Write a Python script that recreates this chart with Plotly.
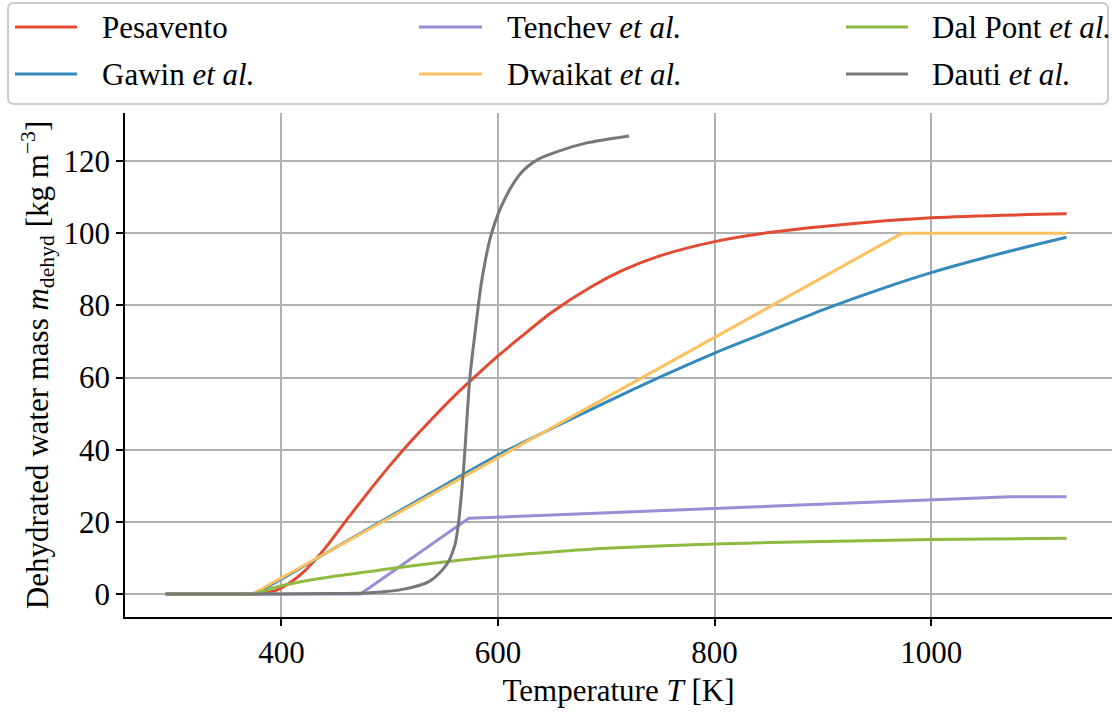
import plotly.graph_objects as go

# ---------------- data ----------------
pes_T = [293, 365, 373, 390, 400, 420, 440, 460, 480, 500, 520, 540, 560, 580, 600, 620, 650, 685, 715, 750, 800, 850, 900, 1000, 1125]
pes_m = [0, 0, 0, 0.6, 1.7, 6.0, 12.6, 20.5, 28.2, 35.6, 42.5, 48.9, 55.0, 60.6, 66.0, 71.0, 78.2, 85.0, 89.7, 93.8, 97.7, 100.2, 101.9, 104.3, 105.4]

gaw_T = [293, 365, 373, 400, 450, 500, 550, 600, 650, 700, 750, 800, 850, 900, 950, 1000, 1050, 1100, 1125]
gaw_m = [0, 0, 0, 4.2, 12.9, 21.5, 30.1, 38.5, 46.0, 53.2, 60.2, 66.8, 72.8, 78.8, 84.2, 89.1, 93.3, 97.1, 98.9]

ten_T = [293, 473, 573, 1073, 1125]
ten_m = [0, 0, 21, 27, 27]

dwa_T = [293, 373, 973, 1125]
dwa_m = [0, 0, 100, 100]

dal_T = [293, 365, 373, 400, 450, 500, 550, 600, 650, 700, 800, 900, 1000, 1125]
dal_m = [0, 0, 0, 2.3, 5.0, 7.0, 8.9, 10.5, 11.7, 12.7, 13.9, 14.6, 15.1, 15.5]

dau_T = [293, 400, 450, 482, 512, 537, 552.6, 560.3, 563.3, 568, 574, 579, 585, 594, 607, 622, 637, 656, 681, 721]
dau_m = [0, 0.05, 0.15, 0.36, 1.3, 3.6, 8.2, 13.8, 19.3, 34, 60, 73, 87, 100, 110, 117, 120.5, 122.8, 125, 127]

x_ticks = [400, 600, 800, 1000]
y_ticks = [0, 20, 40, 60, 80, 100, 120]

labels = ["Pesavento", "Gawin <i>et al.</i>", "Tenchev <i>et al.</i>",
          "Dwaikat <i>et al.</i>", "Dal Pont <i>et al.</i>", "Dauti <i>et al.</i>"]
colors = ["#E24A33", "#348ABD", "#988ED5", "#FBC15E", "#8EBA42", "#777777"]

FONT = "Liberation Serif"
FS = 31

series = [
    (pes_T, pes_m, "spline"),
    (gaw_T, gaw_m, "spline"),
    (ten_T, ten_m, "linear"),
    (dwa_T, dwa_m, "linear"),
    (dal_T, dal_m, "spline"),
    (dau_T, dau_m, "spline"),
]

fig = go.Figure()
for (T, m, shape), lab, col in zip(series, labels, colors):
    line = dict(color=col, width=3, shape=shape)
    if shape == "spline":
        line["smoothing"] = 0.8
    fig.add_trace(go.Scatter(x=T, y=m, mode="lines", name=lab, line=line,
                             showlegend=False))

# ---------------- layout geometry ----------------
W, H = 1112, 715
L, R = 125, 1112
TOP, BOT = 113, 616.7

def px(x):
    return (x - L) / (R - L)

def py(y):
    return (BOT - y) / (BOT - TOP)

shapes = []
annotations = []

# legend frame with rounded corners
x0, x1, y0, y1, r = 8, 1108, 3, 104, 6
path = (f"M {px(x0 + r)},{py(y0)} L {px(x1 - r)},{py(y0)} "
        f"Q {px(x1)},{py(y0)} {px(x1)},{py(y0 + r)} "
        f"L {px(x1)},{py(y1 - r)} Q {px(x1)},{py(y1)} {px(x1 - r)},{py(y1)} "
        f"L {px(x0 + r)},{py(y1)} Q {px(x0)},{py(y1)} {px(x0)},{py(y1 - r)} "
        f"L {px(x0)},{py(y0 + r)} Q {px(x0)},{py(y0)} {px(x0 + r)},{py(y0)} Z")
shapes.append(dict(type="path", path=path, xref="paper", yref="paper",
                   line=dict(color="#cccccc", width=2), fillcolor="rgba(255,255,255,0.8)",
                   layer="above"))

col_line = [(15, 77, 100), (419, 482, 505), (846, 908, 930)]
row_y = [27, 74]
# matplotlib ncol=3 fills column-major
for i, (lab, col) in enumerate(zip(labels, colors)):
    c, rr = i // 2, i % 2
    lx0, lx1, tx = col_line[c]
    yy = row_y[rr]
    shapes.append(dict(type="line", xref="paper", yref="paper",
                       x0=px(lx0), x1=px(lx1), y0=py(yy), y1=py(yy),
                       line=dict(color=col, width=3), layer="above"))
    annotations.append(dict(text=lab, xref="paper", yref="paper", x=px(tx), y=py(yy + 1),
                            xanchor="left", yanchor="middle", showarrow=False,
                            font=dict(family=FONT, size=FS, color="black")))

fig.update_layout(
    width=W, height=H,
    margin=dict(l=L, r=W - R, t=TOP, b=H - BOT, autoexpand=False),
    paper_bgcolor="white", plot_bgcolor="white",
    font=dict(family=FONT, size=FS, color="black"),
    shapes=shapes, annotations=annotations,
    showlegend=False,
)
fig.update_xaxes(
    range=[255.5, 1167], tickvals=x_ticks, ticktext=[str(v) for v in x_ticks],
    showgrid=True, gridcolor="#b0b0b0", gridwidth=1.6, zeroline=False,
    showline=True, linecolor="black", linewidth=1.6,
    ticks="outside", ticklen=7, tickwidth=1.6, tickcolor="black",
    tickfont=dict(family=FONT, size=FS),
    title=dict(text="Temperature <i>T</i> [K]", font=dict(family=FONT, size=FS), standoff=10),
)
fig.update_yaxes(
    range=[-6.35, 133.35], tickvals=y_ticks, ticktext=[str(v) for v in y_ticks],
    showgrid=True, gridcolor="#b0b0b0", gridwidth=1.6, zeroline=False,
    showline=True, linecolor="black", linewidth=1.6,
    ticks="outside", ticklen=7, tickwidth=1.6, tickcolor="black",
    tickfont=dict(family=FONT, size=FS),
    title=dict(text="Dehydrated water mass <i>m</i><sub>dehyd</sub> [kg m<sup>−3</sup>]",
               font=dict(family=FONT, size=FS), standoff=6),
)

fig.write_html("out.html")
